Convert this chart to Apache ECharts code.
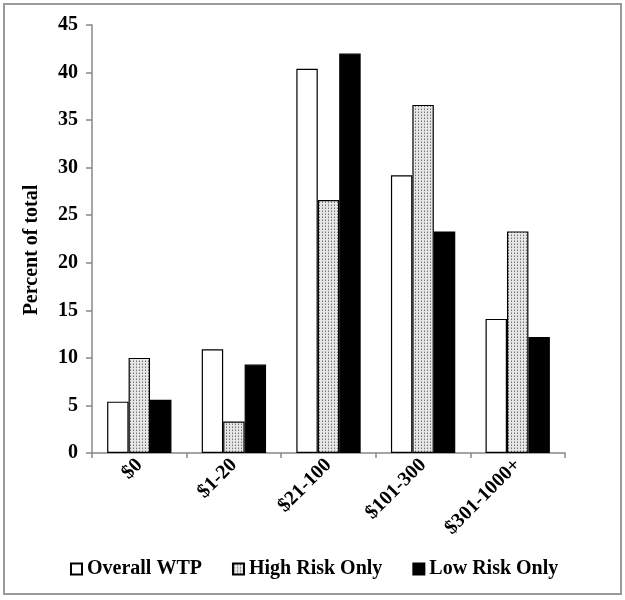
<!DOCTYPE html>
<html>
<head>
<meta charset="utf-8">
<script src="https://cdn.jsdelivr.net/npm/echarts@6/dist/echarts.min.js"></script>
<style>
html,body{margin:0;padding:0;background:#fff;}
#chart{width:625px;height:600px;}
</style>
</head>
<body>
<div id="chart"></div>
<script>
var categories = ['$0', '$1-20', '$21-100', '$101-300', '$301-1000+'];
var overallWTP = [5.4, 10.9, 40.4, 29.2, 14.1];
var highRiskOnly = [10.0, 3.3, 26.6, 36.6, 23.3];
var lowRiskOnly = [5.6, 9.3, 42.0, 23.3, 12.2];
var yTicks = [0, 5, 10, 15, 20, 25, 30, 35, 40, 45];
var seriesNames = ['Overall WTP', 'High Risk Only', 'Low Risk Only'];

function makePattern() {
  var c = document.createElement('canvas');
  c.width = 3; c.height = 3;
  var ctx = c.getContext('2d');
  ctx.fillStyle = '#e6e6e6';
  ctx.fillRect(0, 0, 3, 3);
  ctx.fillStyle = '#707070';
  ctx.fillRect(1, 1, 1, 1);
  ctx.fillStyle = '#b0b0b0';
  ctx.fillRect(1, 0, 1, 1);
  return c;
}
var pattern = { image: makePattern(), repeat: 'repeat' };

var font = '"Liberation Serif", "Times New Roman", serif';
var chart = echarts.init(document.getElementById('chart'), null, { renderer: 'canvas' });
var fills = ['#ffffff', pattern, '#000000'];
var datasets = [overallWTP, highRiskOnly, lowRiskOnly];

chart.setOption({
  animation: false,
  backgroundColor: '#ffffff',
  textStyle: { fontFamily: font },
  graphic: [{
    type: 'rect',
    shape: { x: 4, y: 4, width: 617, height: 590 },
    style: { fill: 'none', stroke: '#9a9a9a', lineWidth: 2 },
    silent: true
  }],
  grid: { left: 92, right: 60, top: 25, bottom: 147, containLabel: false },
  legend: {
    left: 70, top: 559, padding: 0,
    itemWidth: 11, itemHeight: 11, itemGap: 30,
    icon: 'rect',
    data: seriesNames,
    textStyle: { fontFamily: font, fontWeight: 'bold', fontSize: 20, color: '#000' }
  },
  xAxis: {
    type: 'category',
    data: categories,
    axisLine: { lineStyle: { color: '#888888', width: 1.5 } },
    axisTick: { show: true, length: 5, lineStyle: { color: '#888888', width: 1.5 } },
    axisLabel: { rotate: 45, margin: 9, fontFamily: font, fontWeight: 'bold', fontSize: 20, color: '#000' }
  },
  yAxis: {
    type: 'value',
    min: 0, max: 45, interval: 5,
    name: 'Percent of total',
    nameLocation: 'middle',
    nameGap: 50,
    nameTextStyle: { fontFamily: font, fontWeight: 'bold', fontSize: 20, color: '#000', padding: [0, 22, 0, 0] },
    axisLine: { show: true, lineStyle: { color: '#888888', width: 1.5 } },
    axisTick: { show: true, length: 6, lineStyle: { color: '#888888', width: 1.5 } },
    splitLine: { show: false },
    axisLabel: { margin: 14, fontFamily: font, fontWeight: 'bold', fontSize: 20, color: '#000',
      formatter: function (v) { return yTicks.indexOf(v) >= 0 ? String(v) : ''; } }
  },
  series: seriesNames.map(function (n, i) {
    return {
      name: n,
      type: 'bar',
      data: datasets[i],
      barGap: '0%',
      barCategoryGap: '32%',
      itemStyle: { color: fills[i], borderColor: '#000', borderWidth: 1.2 }
    };
  })
});
</script>
</body>
</html>
